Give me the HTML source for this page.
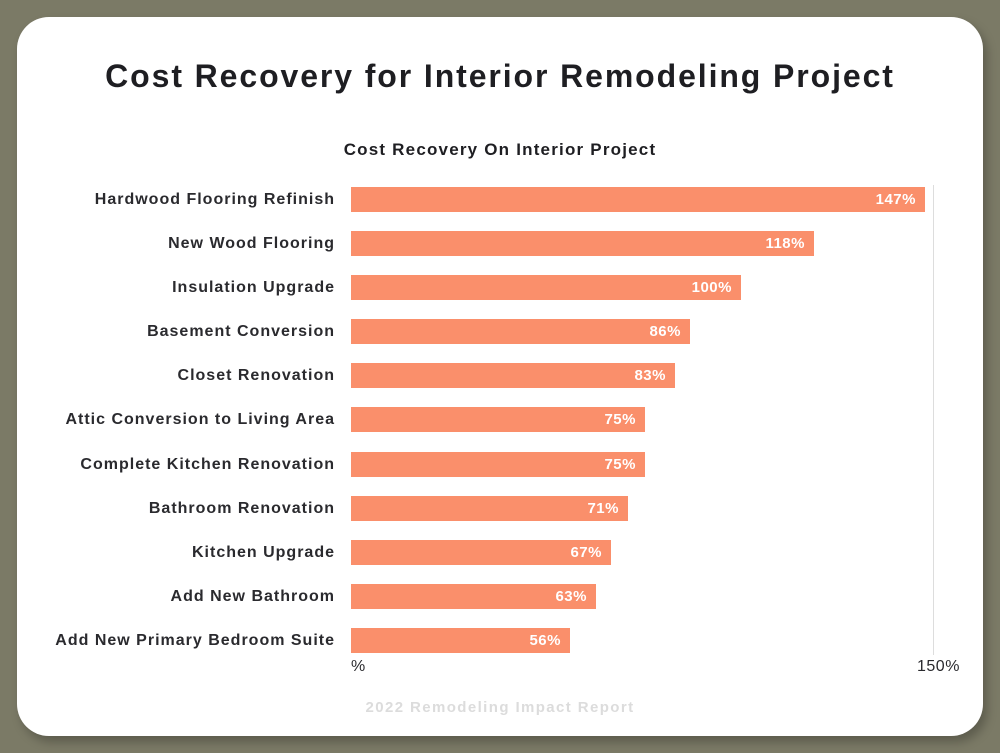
<!DOCTYPE html>
<html><head><meta charset="utf-8"><style>
body{margin:0;width:1000px;height:753px;background:#7b7a66;position:relative;overflow:hidden;font-family:"Liberation Sans",sans-serif}
.card{position:absolute;left:17px;top:17px;width:966px;height:719px;background:#fff;border-radius:32px;box-shadow:4px 6px 10px rgba(0,0,0,0.25)}
.t{position:absolute;left:0;width:1000px;text-align:center;font-weight:bold;color:#1e1e22}
.lab{position:absolute;right:665px;font-size:16px;font-weight:bold;color:#2a2a2e;text-align:right;white-space:nowrap;height:25px;line-height:25px;letter-spacing:1px}
.bar{position:absolute;left:351px;height:25px;background:#fa8f6b;color:#fff;font-weight:bold;font-size:15px;line-height:25px;text-align:right;box-sizing:border-box;padding-right:9px;letter-spacing:0.5px}
</style></head><body>
<div class="card"></div>
<div class="t" style="top:58px;font-size:32px;letter-spacing:1.9px">Cost Recovery for Interior Remodeling Project</div>
<div class="t" style="top:140px;font-size:17px;letter-spacing:1.2px">Cost Recovery On Interior Project</div>
<div style="position:absolute;left:933px;top:185px;width:1px;height:470px;background:#ddd"></div>
<div class="lab" style="top:187px">Hardwood Flooring Refinish</div><div class="bar" style="top:187px;width:574px">147%</div>
<div class="lab" style="top:231px">New Wood Flooring</div><div class="bar" style="top:231px;width:463px">118%</div>
<div class="lab" style="top:275px">Insulation Upgrade</div><div class="bar" style="top:275px;width:390px">100%</div>
<div class="lab" style="top:319px">Basement Conversion</div><div class="bar" style="top:319px;width:339px">86%</div>
<div class="lab" style="top:363px">Closet Renovation</div><div class="bar" style="top:363px;width:324px">83%</div>
<div class="lab" style="top:407px">Attic Conversion to Living Area</div><div class="bar" style="top:407px;width:294px">75%</div>
<div class="lab" style="top:452px">Complete Kitchen Renovation</div><div class="bar" style="top:452px;width:294px">75%</div>
<div class="lab" style="top:496px">Bathroom Renovation</div><div class="bar" style="top:496px;width:277px">71%</div>
<div class="lab" style="top:540px">Kitchen Upgrade</div><div class="bar" style="top:540px;width:260px">67%</div>
<div class="lab" style="top:584px">Add New Bathroom</div><div class="bar" style="top:584px;width:245px">63%</div>
<div class="lab" style="top:628px">Add New Primary Bedroom Suite</div><div class="bar" style="top:628px;width:219px">56%</div>
<div style="position:absolute;left:351px;top:658px;font-size:16px;color:#2a2a2e">%</div>
<div style="position:absolute;left:917px;top:658px;font-size:16px;color:#2a2a2e;letter-spacing:0.5px">150%</div>
<div class="t" style="top:699px;font-size:15px;color:#dcdcdc;letter-spacing:1.4px">2022 Remodeling Impact Report</div>
</body></html>
